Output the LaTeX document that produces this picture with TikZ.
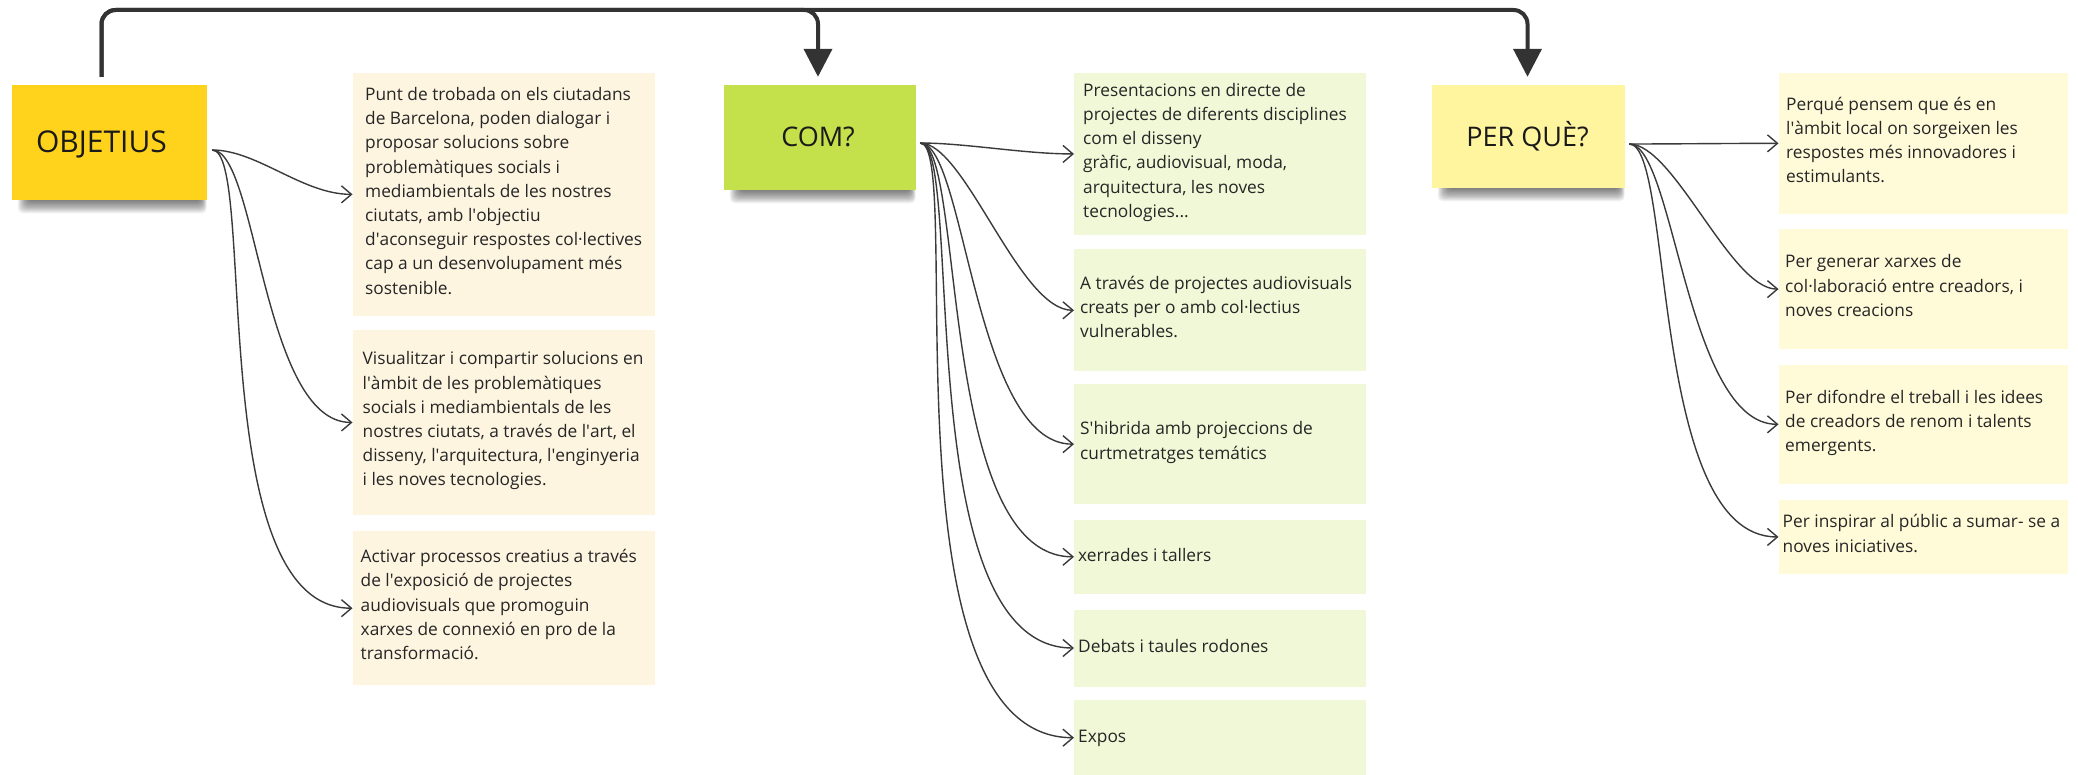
\documentclass[tikz,border=0pt]{standalone}
\usepackage{fontspec}
\setmainfont{Open Sans}
\usetikzlibrary{arrows.meta,backgrounds}

\definecolor{objfill}{HTML}{FFD21C}
\definecolor{comfill}{HTML}{C4E04B}
\definecolor{perfill}{HTML}{FFF59F}
\definecolor{objcard}{HTML}{FEF5E1}
\definecolor{comcard}{HTML}{F1F8D7}
\definecolor{percard}{HTML}{FFFBD9}
\definecolor{trunkink}{HTML}{333333}
\definecolor{linkink}{HTML}{3A3A3A}
\definecolor{bodyink}{HTML}{262626}
\definecolor{titleink}{HTML}{1A1A1A}

% straight apostrophe (the TeX ligature mapping would curl a plain ')
\newcommand\mqt{\textquotesingle}

% soft shadow under a sticky note
\newcommand\noteshadow[1]{%
  \begin{scope}[on background layer]
    \foreach \k in {0,...,11}{%
      \fill[black,opacity=0.055,rounded corners=5pt]
        ([xshift={16pt-\k*0.9pt},yshift=8pt]#1.south west) rectangle
        ([xshift={-6pt+\k*0.5pt},yshift={-1pt-\k*1.1pt}]#1.south east);
    }
  \end{scope}}

\begin{document}
\begin{tikzpicture}[x=1pt,y=-1pt,
  note/.style={rectangle,inner sep=0pt,draw=none},
  card/.style={rectangle,inner sep=0pt,draw=none,anchor=north west},
  cardtext/.style={anchor=west,align=left,inner sep=0pt,text=bodyink,
    font=\fontsize{17.3}{24.2}\selectfont,
    execute at begin node=\strut,execute at end node=\strut},
  titletext/.style={inner sep=0pt,text=titleink,text depth=0pt},
  trunk/.style={draw=trunkink,line width=4pt,rounded corners=14pt,
    -{Triangle[length=28pt,width=28pt]}},
  link/.style={draw=linkink,line width=1.4pt,
    -{Straight Barb[length=10pt,width=17pt]}},
  swoop/.style={out=0,in=180,out distance=45pt,in distance=#1}]

\useasboundingbox (0,0) rectangle (2078,775);

% ---------- sticky notes ----------
\node[note,fill=objfill,minimum width=195pt,minimum height=115pt] (objbox) at (109.5,142.5) {};
\node[titletext,font=\fontsize{30}{36}\selectfont,text height=21.4pt] (obj) at (101.5,142) {OBJETIUS};

\node[note,fill=comfill,minimum width=192pt,minimum height=105pt] (combox) at (820,137.5) {};
\node[titletext,font=\fontsize{27}{32}\selectfont,text height=19.3pt] (com) at (818,137) {COM?};

\node[note,fill=perfill,minimum width=193pt,minimum height=103pt] (perbox) at (1528.5,136.5) {};
\node[titletext,font=\fontsize{27}{32}\selectfont,text height=19.3pt] (per) at (1527.5,136.5) {PER QUÈ?};

\noteshadow{objbox}
\noteshadow{combox}
\noteshadow{perbox}

% ---------- OBJETIUS cards ----------
\node[card,fill=objcard,minimum width=302pt,minimum height=242.5pt] (o1) at (352.5,72.9) {};
\node[cardtext] (o1t) at ([xshift=12.5pt]o1.west) {Punt de trobada on els ciutadans\\de Barcelona, poden dialogar i\\proposar solucions sobre\\problemàtiques socials i\\mediambientals de les nostres\\ciutats, amb l\mqt objectiu\\d\mqt aconseguir respostes col·lectives\\cap a un desenvolupament més\\sostenible.};

\node[card,fill=objcard,minimum width=302pt,minimum height=184.5pt] (o2) at (352.5,330) {};
\node[cardtext] (o2t) at ([xshift=10pt]o2.west) {Visualitzar i compartir solucions en\\l\mqt àmbit de les problemàtiques\\socials i mediambientals de les\\nostres ciutats, a través de l\mqt art, el\\disseny, l\mqt arquitectura, l\mqt enginyeria\\i les noves tecnologies.};

\node[card,fill=objcard,minimum width=302pt,minimum height=154pt] (o3) at (352.5,531) {};
\node[cardtext] (o3t) at ([xshift=8pt]o3.west) {Activar processos creatius a través\\de l\mqt exposició de projectes\\audiovisuals que promoguin\\xarxes de connexió en pro de la\\transformació.};

% ---------- COM? cards ----------
\node[card,fill=comcard,minimum width=292pt,minimum height=161.7pt] (c1) at (1074,72.9) {};
\node[cardtext] (c1t) at ([xshift=9pt]c1.west) {Presentacions en directe de\\projectes de diferents disciplines\\com el disseny\\gràfic, audiovisual, moda,\\arquitectura, les noves\\tecnologies...};

\node[card,fill=comcard,minimum width=292pt,minimum height=121.8pt] (c2) at (1074,249.2) {};
\node[cardtext] (c2t) at ([xshift=6pt]c2.west) {A través de projectes audiovisuals\\creats per o amb col·lectius\\vulnerables.};

\node[card,fill=comcard,minimum width=292pt,minimum height=119.3pt] (c3) at (1074,384.3) {};
\node[cardtext] (c3t) at ([xshift=6pt]c3.west) {S\mqt hibrida amb projeccions de\\curtmetratges temátics};

\node[card,fill=comcard,minimum width=292pt,minimum height=74.2pt] (c4) at (1074,519.5) {};
\node[cardtext] (c4t) at ([xshift=4pt]c4.west) {xerrades i tallers};

\node[card,fill=comcard,minimum width=292pt,minimum height=77pt] (c5) at (1074,609.3) {};
\node[cardtext] (c5t) at ([xshift=4pt]c5.west) {Debats i taules rodones};

\node[card,fill=comcard,minimum width=292pt,minimum height=75pt] (c6) at (1074,700) {};
\node[cardtext] (c6t) at ([xshift=4pt]c6.west) {Expos};

% ---------- PER QUÈ? cards ----------
\node[card,fill=percard,minimum width=289pt,minimum height=140.5pt] (p1) at (1778.5,72.9) {};
\node[cardtext] (p1t) at ([xshift=7.5pt]p1.west) {Perqué pensem que és en\\l\mqt àmbit local on sorgeixen les\\respostes més innovadores i\\estimulants.};

\node[card,fill=percard,minimum width=289pt,minimum height=119.2pt] (p2) at (1778.5,229.3) {};
\node[cardtext] (p2t) at ([xshift=6.5pt]p2.west) {Per generar xarxes de\\col·laboració entre creadors, i\\noves creacions};

\node[card,fill=percard,minimum width=289pt,minimum height=119.2pt] (p3) at (1778.5,364.5) {};
\node[cardtext] (p3t) at ([xshift=6.5pt]p3.west) {Per difondre el treball i les idees\\de creadors de renom i talents\\emergents.};

\node[card,fill=percard,minimum width=289pt,minimum height=74.3pt] (p4) at (1778.5,499.6) {};
\node[cardtext] (p4t) at ([xshift=4pt]p4.west) {Per inspirar al públic a sumar- se a\\noves iniciatives.};

% ---------- main flow across the top ----------
\coordinate (bar) at (0,10);
\coordinate (objtop) at ([yshift=8pt]objbox.north);
\coordinate (comtop) at ([yshift=8pt]combox.north);
\coordinate (pertop) at ([yshift=8pt]perbox.north);
\draw[trunk] (objtop -| obj) -- (obj |- bar) -- (com |- bar) -- (comtop -| com);
\draw[trunk] (objtop -| obj) -- (obj |- bar) -- (per |- bar) -- (pertop -| per);

% ---------- fan-out connectors ----------
\coordinate (objout) at ([xshift=5pt,yshift=-7.5pt]objbox.east);
\coordinate (comout) at ([xshift=4pt,yshift=-5.5pt]combox.east);
\coordinate (perout) at ([xshift=4pt,yshift=-7.5pt]perbox.east);

\draw[link] (objout) to[swoop=50pt]  (o1.west);
\draw[link] (objout) to[swoop=90pt]  (o2.west);
\draw[link] (objout) to[swoop=150pt] (o3.west);

\draw[link] (comout) to[swoop=50pt]  (c1.west);
\draw[link] (comout) to[swoop=55pt]  (c2.west);
\draw[link] (comout) to[swoop=100pt] (c3.west);
\draw[link] (comout) to[swoop=137pt] (c4.west);
\draw[link] (comout) to[swoop=167pt] (c5.west);
\draw[link] (comout) to[swoop=196pt] (c6.west);

\draw[link] (perout) to[swoop=50pt]  (p1.west);
\draw[link] (perout) to[swoop=48pt]  (p2.west);
\draw[link] (perout) to[swoop=92pt]  (p3.west);
\draw[link] (perout) to[swoop=130pt] (p4.west);
\end{tikzpicture}
\end{document}
